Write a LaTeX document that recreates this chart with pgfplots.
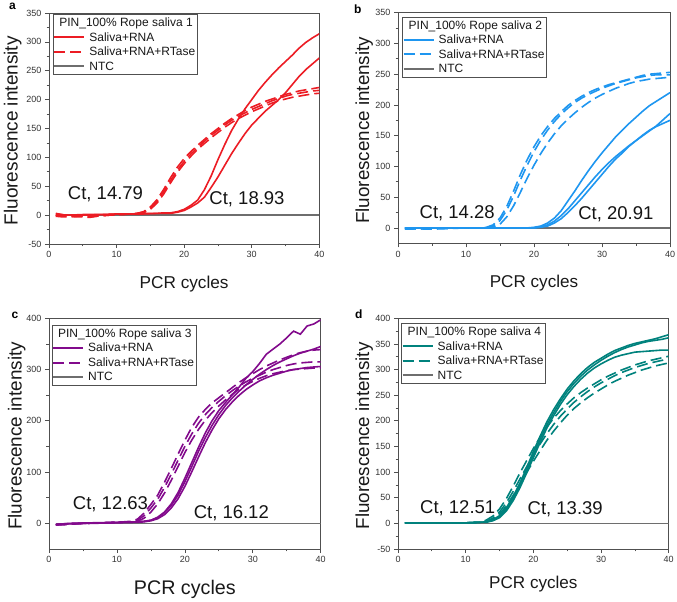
\documentclass[border=0pt]{standalone}
\usepackage{fontspec}
\setmainfont{Liberation Sans}
\usepackage{pgfplots}
\pgfplotsset{compat=1.18}
\definecolor{cA}{RGB}{236,28,36}
\definecolor{cB}{RGB}{30,150,240}
\definecolor{cC}{RGB}{130,10,140}
\definecolor{cD}{RGB}{0,130,125}
\definecolor{ntc}{RGB}{110,110,110}
\definecolor{frame}{RGB}{80,80,80}
\tikzset{
  sl/.style={line width=1.6pt},
  dl/.style={line width=1.6pt, dash pattern=on 11pt off 5pt},
}
\pgfplotsset{
  legend image code/.code={\draw[#1, line width=2pt] (0pt,0pt) -- (30pt,0pt);},
  myax/.style={
    scale only axis, anchor=south west,
    xmin=0, xmax=40, xtick={0,10,20,30,40},
    minor x tick num=1, minor y tick num=1,
    tick align=outside, tick pos=left,
    axis line style={draw=frame, line width=0.8pt},
    major tick length=4pt, minor tick length=2.5pt,
    every tick/.append style={frame, line width=0.7pt},
    tick label style={font=\fontsize{9}{9}\selectfont, text=black!80},
    /pgf/number format/assume math mode=true,
    ylabel={Fluorescence intensity}, xlabel={PCR cycles},
    label style={text=black!90},
    legend cell align=left,
    legend style={at={(axis description cs:0,1)}, anchor=north west, draw=frame, line width=0.8pt,
      font=\fontsize{12}{12}\selectfont, text=black!90, inner xsep=0pt, inner ysep=1pt, row sep=0pt, column sep=2pt,
      cells={text height=9pt, text depth=3pt, inner xsep=0.5pt, inner ysep=1.6pt}},
  },
}
\begin{document}
\begin{tikzpicture}
\useasboundingbox (0,0) rectangle (677pt,602pt);
% ---------------- a
\begin{axis}[myax, at={(49pt,358pt)}, width=270.3pt, height=231pt,
  ymin=-50, ymax=350, ytick={-50,0,...,350},
  ylabel style={at={(axis description cs:-0.1165,0.49)}, anchor=base, font=\fontsize{19}{19}\selectfont},
  xlabel style={at={(axis description cs:0.5,-0.192)}, anchor=base, font=\fontsize{17.2}{17.2}\selectfont},
  legend style={xshift=4pt, yshift=-1.3pt}]
\addlegendimage{empty legend}\addlegendentry{\hspace*{-30pt}PIN\_100\% Rope saliva 1}
\addlegendimage{cA, sl}\addlegendentry{Saliva+RNA}
\addlegendimage{cA, dl}\addlegendentry{Saliva+RNA+RTase}
\addlegendimage{ntc, sl}\addlegendentry{NTC}
\addplot[ntc, sl, forget plot] coordinates {(1,0)(40,0)};
\addplot[cA, sl, forget plot] coordinates {(1,1)(3,0)(5,1)(8,1)(10,2)(12,2)(14,3)(16,3)(17,4)(18,4)(19,6)(20,10)(21,17)(22,26)(23,44)(24,68)(25,96)(26,122)(27,146)(28,166)(29,184)(30,200)(31,216)(32,230)(33,243)(34,255)(35,266)(36,277)(37,289)(38,299)(39,307)(40,314)};
\addplot[cA, sl, forget plot] coordinates {(1,-1)(3,0)(5,0)(8,1)(10,2)(12,2)(14,2)(16,3)(17,3)(18,3)(19,5)(20,8)(21,14)(22,21)(23,31)(24,48)(25,66)(26,86)(27,106)(28,124)(29,141)(30,156)(31,168)(32,180)(33,190)(34,200)(35,212)(36,226)(37,240)(38,252)(39,262)(40,272)};
\addplot[cA, dl, forget plot] coordinates {(1,3)(2,1)(3,-2)(4,-3)(5,-3)(6,-4)(7,-2)(8,-1)(9,0)(10,1)(11,1)(12,2)(13,3)(14,6)(15,14)(16,27)(17,45)(18,65)(19,83)(20,98)(21,110)(22,121)(23,131)(24,141)(25,150)(26,159)(27,167)(28,174)(29,181)(30,187)(31,192)(32,197)(33,201)(34,205)(35,209)(36,212)(37,215)(38,217)(39,219)(40,221)};
\addplot[cA, dl, forget plot] coordinates {(1,-2)(2,-3)(3,-3)(4,-2)(5,-1)(6,-1)(7,0)(8,0)(10,1)(12,2)(13,3)(14,5)(15,12)(16,24)(17,41)(18,60)(19,78)(20,93)(21,106)(22,117)(23,128)(24,138)(25,147)(26,156)(27,164)(28,171)(29,177)(30,183)(31,188)(32,193)(33,198)(34,202)(35,206)(36,209)(37,211)(38,213)(39,215)(40,216)};
\addplot[cA, dl, forget plot] coordinates {(1,0)(2,-1)(3,-1)(4,-1)(5,-2)(6,-3)(7,-2)(8,-1)(10,1)(12,2)(13,2)(14,4)(15,10)(16,21)(17,37)(18,56)(19,74)(20,89)(21,102)(22,114)(23,124)(24,134)(25,143)(26,152)(27,160)(28,167)(29,173)(30,179)(31,184)(32,189)(33,194)(34,198)(35,201)(36,204)(37,206)(38,208)(39,210)(40,211)};
\end{axis}
% ---------------- b
\begin{axis}[myax, at={(398pt,358.7pt)}, width=272pt, height=230.6pt,
  ymin=-25, ymax=350, ytick={0,50,...,350},
  ylabel style={at={(axis description cs:-0.1066,0.49)}, anchor=base, font=\fontsize{18.8}{18.8}\selectfont},
  xlabel style={at={(axis description cs:0.5,-0.191)}, anchor=base, font=\fontsize{17.1}{17.1}\selectfont},
  legend style={xshift=4.3pt, yshift=-4pt}]
\addlegendimage{empty legend}\addlegendentry{\hspace*{-30pt}PIN\_100\% Rope saliva 2}
\addlegendimage{cB, sl}\addlegendentry{Saliva+RNA}
\addlegendimage{cB, dl}\addlegendentry{Saliva+RNA+RTase}
\addlegendimage{ntc, sl}\addlegendentry{NTC}
\addplot[ntc, sl, forget plot] coordinates {(1,0)(40,0)};
\addplot[cB, sl, forget plot] coordinates {(1,0)(5,0)(10,0)(15,0)(19,0)(20,1)(21,3)(22,8)(23,16)(24,28)(25,44)(26,60)(27,77)(28,93)(29,108)(30,122)(31,135)(32,148)(33,159)(34,170)(35,180)(36,190)(37,199)(38,206)(39,213)(40,220)};
\addplot[cB, sl, forget plot] coordinates {(1,0)(10,0)(20,0)(21,2)(22,5)(23,11)(24,20)(25,31)(26,44)(27,57)(28,70)(29,83)(30,95)(31,106)(32,116)(33,125)(34,134)(35,142)(36,150)(37,158)(38,166)(39,176)(40,186)};
\addplot[cB, sl, forget plot] coordinates {(1,0)(10,0)(20,0)(21,1)(22,3)(23,8)(24,15)(25,25)(26,36)(27,48)(28,61)(29,74)(30,87)(31,100)(32,112)(33,122)(34,133)(35,142)(36,151)(37,159)(38,165)(39,170)(40,175)};
\addplot[cB, dl, forget plot] coordinates {(1,-1)(5,-1)(10,0)(12,0)(13,1)(14,5)(15,16)(16,35)(17,60)(18,87)(19,111)(20,132)(21,150)(22,165)(23,178)(24,189)(25,199)(26,207)(27,214)(28,220)(29,225)(30,229)(31,233)(32,236)(33,239)(34,242)(35,245)(36,248)(37,250)(38,251)(39,252)(40,253)};
\addplot[cB, dl, forget plot] coordinates {(1,-2)(5,-1)(10,0)(13,0)(14,3)(15,12)(16,29)(17,52)(18,78)(19,102)(20,124)(21,143)(22,159)(23,173)(24,185)(25,195)(26,204)(27,211)(28,217)(29,222)(30,227)(31,231)(32,235)(33,238)(34,241)(35,244)(36,246)(37,248)(38,249)(39,249)(40,249)};
\addplot[cB, dl, forget plot] coordinates {(1,-1)(5,-2)(10,0)(13,0)(14,1)(15,6)(16,18)(17,36)(18,58)(19,81)(20,102)(21,121)(22,138)(23,153)(24,166)(25,177)(26,187)(27,196)(28,204)(29,211)(30,217)(31,222)(32,227)(33,231)(34,235)(35,238)(36,240)(37,242)(38,243)(39,244)(40,245)};
\end{axis}
% ---------------- c
\begin{axis}[myax, at={(49pt,53pt)}, width=271.7pt, height=230.7pt,
  ymin=-50, ymax=400, ytick={0,100,...,400},
  ylabel style={at={(axis description cs:-0.1005,0.49)}, anchor=base, font=\fontsize{18.9}{18.9}\selectfont},
  xlabel style={at={(axis description cs:0.5,-0.199)}, anchor=base, font=\fontsize{19.7}{19.7}\selectfont},
  legend style={xshift=2.7pt, yshift=-6.7pt}]
\addlegendimage{empty legend}\addlegendentry{\hspace*{-30pt}PIN\_100\% Rope saliva 3}
\addlegendimage{cC, sl}\addlegendentry{Saliva+RNA}
\addlegendimage{cC, dl}\addlegendentry{Saliva+RNA+RTase}
\addlegendimage{ntc, sl}\addlegendentry{NTC}
\addplot[ntc, sl, forget plot] coordinates {(1,0)(40,0)};
\addplot[cC, sl, forget plot] coordinates {(1,-3)(2,-1)(4,0)(6,1)(8,1)(10,2)(12,3)(13,3)(14,4)(15,6)(16,12)(17,22)(18,38)(19,60)(20,88)(21,118)(22,148)(23,176)(24,200)(25,220)(26,236)(27,251)(28,266)(29,283)(30,296)(31,312)(32,330)(33,340)(34,350)(35,362)(36,375)(37,369)(38,385)(39,389)(40,397)};
\addplot[cC, sl, forget plot] coordinates {(1,-2)(3,0)(6,1)(10,2)(13,3)(14,4)(15,6)(16,11)(17,21)(18,35)(19,55)(20,81)(21,110)(22,140)(23,167)(24,191)(25,212)(26,230)(27,245)(28,258)(29,270)(30,281)(31,291)(32,300)(33,308)(34,315)(35,321)(36,327)(37,332)(38,336)(39,340)(40,345)};
\addplot[cC, sl, forget plot] coordinates {(1,-3)(3,-1)(6,0)(10,1)(13,2)(14,3)(15,5)(16,9)(17,17)(18,30)(19,48)(20,72)(21,100)(22,129)(23,157)(24,182)(25,204)(26,222)(27,237)(28,250)(29,261)(30,270)(31,278)(32,284)(33,289)(34,293)(35,297)(36,300)(37,302)(38,304)(39,305)(40,306)};
\addplot[cC, dl, forget plot] coordinates {(1,-3)(2,-3)(3,-2)(5,0)(8,1)(10,2)(12,4)(13,8)(14,20)(15,37)(16,55)(17,80)(18,107)(19,135)(20,162)(21,187)(22,207)(23,222)(24,235)(25,245)(26,255)(27,265)(28,275)(29,284)(30,292)(31,300)(32,307)(33,313)(34,319)(35,324)(36,329)(37,333)(38,336)(39,338)(40,339)};
\addplot[cC, dl, forget plot] coordinates {(1,-2)(3,-1)(5,0)(8,1)(10,2)(12,3)(13,6)(14,15)(15,30)(16,47)(17,70)(18,96)(19,123)(20,150)(21,174)(22,195)(23,212)(24,226)(25,238)(26,249)(27,259)(28,268)(29,276)(30,283)(31,289)(32,295)(33,300)(34,304)(35,308)(36,311)(37,313)(38,314)(39,315)(40,315)};
\addplot[cC, dl, forget plot] coordinates {(1,-3)(3,-1)(5,0)(8,1)(10,2)(12,3)(13,4)(14,10)(15,22)(16,38)(17,59)(18,84)(19,111)(20,138)(21,162)(22,183)(23,201)(24,216)(25,229)(26,241)(27,252)(28,262)(29,270)(30,277)(31,283)(32,288)(33,292)(34,295)(35,298)(36,300)(37,301)(38,302)(39,303)(40,303)};
\end{axis}
% ---------------- d
\begin{axis}[myax, at={(398pt,53pt)}, width=270.7pt, height=230.7pt,
  ymin=-50, ymax=400, ytick={-50,0,...,400},
  ylabel style={at={(axis description cs:-0.107,0.49)}, anchor=base, font=\fontsize{18.8}{18.8}\selectfont},
  xlabel style={at={(axis description cs:0.5,-0.170)}, anchor=base, font=\fontsize{17.1}{17.1}\selectfont},
  legend style={xshift=3.3pt, yshift=-5pt}]
\addlegendimage{empty legend}\addlegendentry{\hspace*{-30pt}PIN\_100\% Rope saliva 4}
\addlegendimage{cD, sl}\addlegendentry{Saliva+RNA}
\addlegendimage{cD, dl}\addlegendentry{Saliva+RNA+RTase}
\addlegendimage{ntc, sl}\addlegendentry{NTC}
\addplot[ntc, sl, forget plot] coordinates {(1,0)(40,0)};
\addplot[cD, sl, forget plot] coordinates {(1,1)(5,1)(10,1)(12,2)(13,3)(14,7)(15,15)(16,30)(17,52)(18,78)(19,108)(20,140)(21,170)(22,198)(23,222)(24,243)(25,262)(26,278)(27,292)(28,304)(29,314)(30,322)(31,330)(32,337)(33,342)(34,347)(35,351)(36,354)(37,357)(38,360)(39,364)(40,368)};
\addplot[cD, sl, forget plot] coordinates {(1,1)(5,1)(10,1)(12,2)(13,3)(14,6)(15,13)(16,27)(17,48)(18,74)(19,103)(20,134)(21,164)(22,192)(23,216)(24,238)(25,257)(26,273)(27,287)(28,299)(29,309)(30,318)(31,326)(32,333)(33,339)(34,344)(35,348)(36,352)(37,355)(38,357)(39,359)(40,362)};
\addplot[cD, sl, forget plot] coordinates {(1,1)(5,1)(10,1)(12,2)(13,2)(14,5)(15,11)(16,24)(17,44)(18,69)(19,98)(20,128)(21,158)(22,186)(23,210)(24,232)(25,251)(26,267)(27,281)(28,293)(29,303)(30,311)(31,318)(32,324)(33,328)(34,331)(35,334)(36,335)(37,336)(38,337)(39,338)(40,338)};
\addplot[cD, dl, forget plot] coordinates {(1,1)(5,1)(10,1)(12,2)(13,6)(14,14)(15,28)(16,48)(17,72)(18,98)(19,122)(20,146)(21,168)(22,188)(23,205)(24,220)(25,233)(26,245)(27,255)(28,264)(29,272)(30,280)(31,287)(32,293)(33,299)(34,304)(35,309)(36,313)(37,317)(38,320)(39,323)(40,326)};
\addplot[cD, dl, forget plot] coordinates {(1,1)(5,1)(10,1)(12,2)(13,4)(14,10)(15,22)(16,40)(17,62)(18,86)(19,110)(20,133)(21,155)(22,175)(23,193)(24,209)(25,223)(26,236)(27,247)(28,257)(29,266)(30,274)(31,281)(32,288)(33,294)(34,299)(35,304)(36,308)(37,312)(38,315)(39,318)(40,320)};
\addplot[cD, dl, forget plot] coordinates {(1,1)(5,1)(10,1)(12,2)(13,3)(14,8)(15,18)(16,34)(17,54)(18,76)(19,99)(20,121)(21,142)(22,162)(23,180)(24,196)(25,211)(26,224)(27,235)(28,245)(29,254)(30,262)(31,270)(32,277)(33,283)(34,289)(35,294)(36,299)(37,303)(38,307)(39,310)(40,313)};
\end{axis}
% ---------------- annotations
\begin{scope}[every node/.style={font=\fontsize{18.5}{18.5}\selectfont, text=black!92, anchor=base, inner sep=0pt}]
\node at (105.5pt,{602pt-199.3pt}) {Ct, 14.79};
\node at (247pt,{602pt-204.3pt}) {Ct, 18.93};
\node at (457.2pt,{602pt-218.3pt}) {Ct, 14.28};
\node at (615.8pt,{602pt-220pt}) {Ct, 20.91};
\node at (110.5pt,{602pt-510pt}) {Ct, 12.63};
\node at (231.3pt,{602pt-518.3pt}) {Ct, 16.12};
\node at (457.7pt,{602pt-513.3pt}) {Ct, 12.51};
\node at (565.2pt,{602pt-515pt}) {Ct, 13.39};
\end{scope}
\begin{scope}[every node/.style={font=\fontsize{12}{12}\selectfont\bfseries, anchor=base, inner sep=0pt}]
\node at (12.5pt,{602pt-9.3pt}) {a};
\node at (357.7pt,{602pt-13.3pt}) {b};
\node at (15pt,{602pt-318.3pt}) {c};
\node at (358.8pt,{602pt-318.3pt}) {d};
\end{scope}
\end{tikzpicture}
\end{document}
